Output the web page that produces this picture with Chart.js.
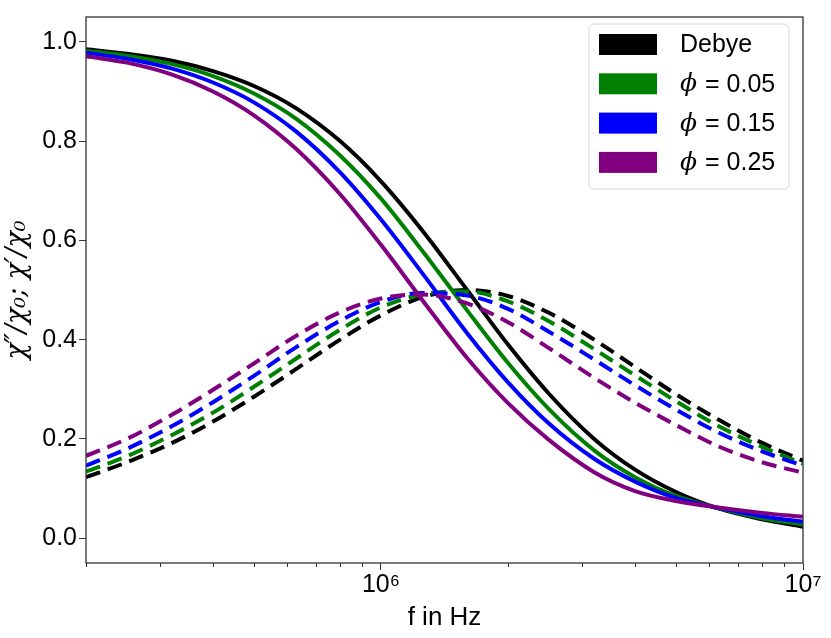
<!DOCTYPE html>
<html>
<head>
<meta charset="utf-8">
<script src="https://cdn.jsdelivr.net/npm/chart.js@4.4.1/dist/chart.umd.min.js"></script>
<style>
  html, body { margin: 0; padding: 0; background: #fff; }
  #wrap { width: 831px; height: 638px; }
</style>
</head>
<body>
<div id="wrap"><canvas id="chart" width="831" height="638"></canvas></div>
<script>
// frequencies (Hz) and values
const freqs = [2e5, 2.5e5, 3.2e5, 4e5, 5e5, 6.3e5, 8e5, 1e6, 1.25e6, 1.6e6, 2e6, 2.5e6, 3.2e6, 4e6, 5e6, 6.3e6, 8e6, 1e7];

const debyeReal = [0.985, 0.976, 0.962, 0.941, 0.911, 0.866, 0.800, 0.719, 0.621, 0.500, 0.390, 0.291, 0.200, 0.138, 0.093, 0.060, 0.038, 0.023];
const debyeImag = [0.123, 0.153, 0.192, 0.235, 0.285, 0.341, 0.400, 0.449, 0.485, 0.500, 0.488, 0.454, 0.400, 0.345, 0.290, 0.239, 0.192, 0.156];

const phi05Real = [0.982, 0.972, 0.955, 0.931, 0.896, 0.845, 0.771, 0.684, 0.580, 0.459, 0.353, 0.260, 0.177, 0.123, 0.085, 0.0605, 0.040, 0.028];
const phi05Imag = [0.134, 0.165, 0.208, 0.253, 0.305, 0.362, 0.420, 0.465, 0.491, 0.497, 0.477, 0.437, 0.381, 0.328, 0.276, 0.226, 0.184, 0.150];

const phi15Real = [0.978, 0.966, 0.946, 0.918, 0.878, 0.819, 0.737, 0.642, 0.535, 0.413, 0.314, 0.231, 0.160, 0.114, 0.081, 0.061, 0.044, 0.033];
const phi15Imag = [0.146, 0.180, 0.226, 0.274, 0.327, 0.385, 0.438, 0.476, 0.494, 0.489, 0.462, 0.416, 0.360, 0.308, 0.259, 0.213, 0.175, 0.146];

const phi25Real = [0.971, 0.958, 0.934, 0.900, 0.852, 0.784, 0.693, 0.591, 0.481, 0.363, 0.272, 0.198, 0.133, 0.095, 0.075, 0.062, 0.051, 0.043];
const phi25Imag = [0.166, 0.200, 0.249, 0.299, 0.352, 0.408, 0.455, 0.483, 0.491, 0.473, 0.435, 0.383, 0.323, 0.273, 0.228, 0.185, 0.153, 0.132];

const seriesLabels = ['Debye', 'ϕ = 0.05', 'ϕ = 0.15', 'ϕ = 0.25'];
const seriesColors = ['#000000', '#008000', '#0000ff', '#800080'];

const xMajorTicks = [1e6, 1e7];
const xMajorLabels = ['10⁶', '10⁷'];
const xMinorTicks = [2e5, 3e5, 4e5, 5e5, 6e5, 7e5, 8e5, 9e5, 2e6, 3e6, 4e6, 5e6, 6e6, 7e6, 8e6, 9e6];
const yTicks = [0.0, 0.2, 0.4, 0.6, 0.8, 1.0];

const tickFont = { family: '"Liberation Sans", Arial, sans-serif', size: 25 };

function toPoints(values) {
    return values.map((v, i) => ({ x: freqs[i], y: v }));
}

function line(label, values, color, dashed, order) {
    return {
        label: label,
        data: toPoints(values),
        borderColor: color,
        backgroundColor: color,
        borderWidth: 4,
        borderDash: dashed ? [15, 8] : [],
        pointRadius: 0,
        cubicInterpolationMode: 'monotone',
        fill: false,
        clip: 0,
        order: order,
        solid: !dashed
    };
}

const reals = [debyeReal, phi05Real, phi15Real, phi25Real];
const imags = [debyeImag, phi05Imag, phi15Imag, phi25Imag];
const datasets = [];
seriesLabels.forEach((lab, i) => {
    datasets.push(line(lab, reals[i], seriesColors[i], false, 10 - 2 * i));
    datasets.push(line(lab + " χ''", imags[i], seriesColors[i], true, 9 - 2 * i));
});

// box round the plot and the short minor ticks on x
const frame = {
    id: 'frame',
    afterDatasetsDraw(chart) {
        const { ctx, chartArea: a } = chart;
        const x = chart.scales.x;
        ctx.save();
        ctx.strokeStyle = '#333';
        ctx.lineWidth = 1.3;
        ctx.strokeRect(a.left, a.top, a.right - a.left, a.bottom - a.top);
        ctx.lineWidth = 1;
        ctx.beginPath();
        xMinorTicks.forEach(v => {
            const px = Math.round(x.getPixelForValue(v)) + 0.5;
            ctx.moveTo(px, a.bottom);
            ctx.lineTo(px, a.bottom + 4);
        });
        ctx.stroke();
        ctx.restore();
    }
};

// legend drawn inside the plot, top right
const boxLegend = {
    id: 'boxLegend',
    afterDraw(chart) {
        const ctx = chart.ctx;
        const items = chart.data.datasets.filter(d => d.solid);
        const bx = 589, by = 24, bw = 200, bh = 165, r = 5;
        ctx.save();
        ctx.beginPath();
        ctx.moveTo(bx + r, by);
        ctx.arcTo(bx + bw, by, bx + bw, by + bh, r);
        ctx.arcTo(bx + bw, by + bh, bx, by + bh, r);
        ctx.arcTo(bx, by + bh, bx, by, r);
        ctx.arcTo(bx, by, bx + bw, by, r);
        ctx.closePath();
        ctx.fillStyle = 'rgba(255,255,255,0.8)';
        ctx.fill();
        ctx.strokeStyle = '#d6d6d6';
        ctx.lineWidth = 1;
        ctx.stroke();

        ctx.textBaseline = 'middle';
        items.forEach((d, i) => {
            const cy = 44.5 + i * 39.3;
            ctx.fillStyle = d.borderColor;
            ctx.fillRect(599, cy - 10.5, 58, 21);
            ctx.fillStyle = '#000';
            let tx = 680;
            let text = d.label;
            if (text.startsWith('ϕ')) {
                ctx.font = 'italic 25px "DejaVu Serif", serif';
                ctx.fillText('ϕ', tx, cy + 1);
                tx += ctx.measureText('ϕ').width + 8;
                text = text.slice(2);
            }
            ctx.font = '25px "Liberation Sans", Arial, sans-serif';
            ctx.fillText(text, tx, cy + 1);
        });
        ctx.restore();
    }
};

new Chart(document.getElementById('chart'), {
    type: 'line',
    data: { datasets: datasets },
    plugins: [frame, boxLegend],
    options: {
        responsive: false,
        animation: false,
        layout: { padding: { top: 9, right: 28, left: 0, bottom: 0 } },
        plugins: { legend: { display: false }, tooltip: { enabled: false } },
        scales: {
            x: {
                type: 'logarithmic',
                min: 2e5,
                max: 1e7,
                border: { display: false },
                grid: {
                    drawOnChartArea: false,
                    tickLength: 7,
                    tickColor: (c) => xMajorTicks.includes(c.tick && c.tick.value) ? '#333' : 'rgba(0,0,0,0)'
                },
                afterBuildTicks: (s) => {
                    s.ticks = xMinorTicks.concat(xMajorTicks).sort((a, b) => a - b).map(v => ({ value: v }));
                },
                afterFit: (s) => { s.height = 75; },
                ticks: {
                    autoSkip: false,
                    maxRotation: 0,
                    padding: 0,
                    color: '#000',
                    font: tickFont,
                    callback: (v) => {
                        const k = xMajorTicks.indexOf(v);
                        return k >= 0 ? xMajorLabels[k] : '';
                    }
                },
                title: {
                    display: true,
                    text: 'f in Hz',
                    color: '#000',
                    font: { family: '"Liberation Sans", Arial, sans-serif', size: 26 },
                    padding: { top: 0, bottom: 5 }
                }
            },
            y: {
                min: -0.05,
                max: 1.05,
                border: { display: false },
                grid: { drawOnChartArea: false, tickLength: 7, tickColor: '#333' },
                afterBuildTicks: (s) => { s.ticks = yTicks.map(v => ({ value: v })); },
                afterFit: (s) => { s.width = 86; },
                ticks: {
                    padding: 2,
                    color: '#000',
                    font: tickFont,
                    callback: (v) => Number(v).toFixed(1)
                },
                title: {
                    display: true,
                    text: 'χ″/χ₀; χ′/χ₀',
                    color: '#000',
                    font: { family: '"DejaVu Serif", serif', size: 27, style: 'italic' },
                    padding: { top: 2, bottom: 0 }
                }
            }
        }
    }
});
</script>
</body>
</html>
